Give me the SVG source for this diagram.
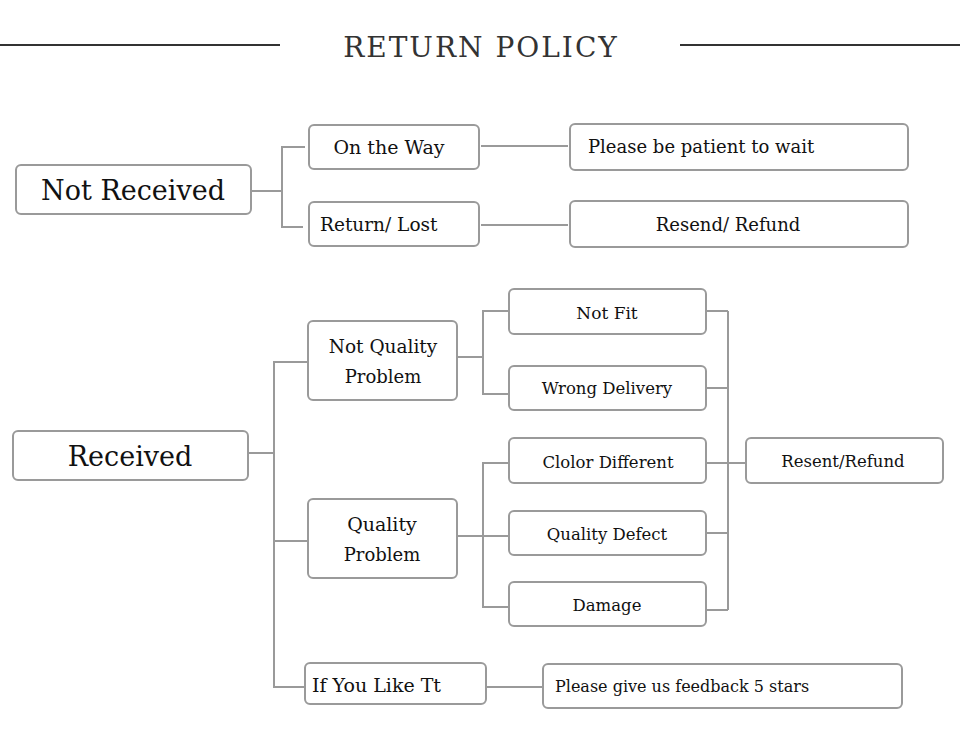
<svg xmlns="http://www.w3.org/2000/svg" width="960" height="731" viewBox="0 0 960 731">
<style>
.box{fill:#fff;stroke:#9a9a9a;stroke-width:2}
.c{fill:none;stroke:#9a9a9a;stroke-width:2}
text{font-family:"DejaVu Serif","Liberation Serif",serif;fill:#111}
.a{text-anchor:middle}
.f16{font-size:16px}
.f165{font-size:16.5px}
.f17{font-size:17px}
.f18{font-size:18px}
.f185{font-size:18.5px}
.f19{font-size:19px}
.big{font-size:27px;text-anchor:middle}
.title{font-size:28px;fill:#333;text-anchor:middle;letter-spacing:2px}
</style>
<rect width="960" height="731" fill="#fff"/>
<g id="title">
<line x1="0" y1="45" x2="280" y2="45" stroke="#333" stroke-width="2"/>
<line x1="680" y1="45" x2="960" y2="45" stroke="#333" stroke-width="2"/>
<text class="title" x="481" y="57">RETURN POLICY</text>
</g>
<g id="connectors">
<path class="c" d="M251 191H282M305 147H282V227H303M481 146H568M481 225H568"/>
<path class="c" d="M248 453H274M308 362H274V687H305M274 541H308M486 687H543"/>
<path class="c" d="M457 357H483M508 311H483V394H508"/>
<path class="c" d="M457 536H509M509 463H483V607H509"/>
<path class="c" d="M706 311H728M706 388H728M706 463H746M706 533H728M706 610H728M728 311V610"/>
</g>
<g id="not-received"><rect class="box" x="16" y="165" width="235" height="49" rx="5"/><text class="big" x="133" y="200">Not Received</text></g>
<g id="on-the-way"><rect class="box" x="309" y="125" width="170" height="44" rx="5"/><text class="a f19" x="389" y="154">On the Way</text></g>
<g id="return-lost"><rect class="box" x="309" y="202" width="170" height="44" rx="5"/><text class="f185" x="320" y="231">Return/ Lost</text></g>
<g id="patient"><rect class="box" x="570" y="124" width="338" height="46" rx="5"/><text class="f18" x="588" y="153">Please be patient to wait</text></g>
<g id="resend-refund"><rect class="box" x="570" y="201" width="338" height="46" rx="5"/><text class="a f18" x="728" y="231">Resend/ Refund</text></g>
<g id="received"><rect class="box" x="13" y="431" width="235" height="49" rx="5"/><text class="big" x="130" y="466">Received</text></g>
<g id="not-quality"><rect class="box" x="308" y="321" width="149" height="79" rx="5"/><text class="a f185" x="383" y="353">Not Quality</text><text class="a f18" x="383" y="383">Problem</text></g>
<g id="quality"><rect class="box" x="308" y="499" width="149" height="79" rx="5"/><text class="a f19" x="382" y="531">Quality</text><text class="a f18" x="382" y="561">Problem</text></g>
<g id="like"><rect class="box" x="305" y="663" width="181" height="41" rx="5"/><text class="f19" x="312" y="692">If You Like Tt</text></g>
<g id="feedback"><rect class="box" x="543" y="664" width="359" height="44" rx="5"/><text class="f16" x="555" y="692">Please give us feedback 5 stars</text></g>
<g id="not-fit"><rect class="box" x="509" y="289" width="197" height="45" rx="5"/><text class="a f17" x="607" y="319">Not Fit</text></g>
<g id="wrong"><rect class="box" x="509" y="366" width="197" height="44" rx="5"/><text class="a f165" x="607" y="394">Wrong Delivery</text></g>
<g id="color"><rect class="box" x="509" y="438" width="197" height="45" rx="5"/><text class="a f165" x="608" y="468">Clolor Different</text></g>
<g id="defect"><rect class="box" x="509" y="511" width="197" height="44" rx="5"/><text class="a f165" x="607" y="540">Quality Defect</text></g>
<g id="damage"><rect class="box" x="509" y="582" width="197" height="44" rx="5"/><text class="a f165" x="607" y="611">Damage</text></g>
<g id="resent"><rect class="box" x="746" y="438" width="197" height="45" rx="5"/><text class="a f165" x="843" y="467">Resent/Refund</text></g>
</svg>
